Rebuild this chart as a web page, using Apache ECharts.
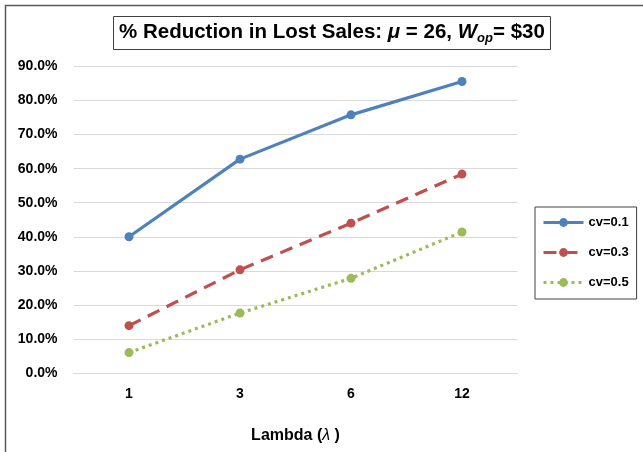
<!DOCTYPE html>
<html>
<head>
<meta charset="utf-8">
<script src="https://cdn.jsdelivr.net/npm/echarts@6/dist/echarts.min.js"></script>
<style>
  html, body { margin: 0; padding: 0; background: #fff; }
  #chart { width: 643px; height: 452px; }
</style>
</head>
<body>
<div id="chart"></div>
<script>
// Arrival rate values on the category axis
const lambdas = ['1', '3', '6', '12'];
// Percent reduction in lost sales for each coefficient of variation
const cv01 = [40.0, 62.8, 75.8, 85.6];
const cv03 = [13.9, 30.3, 44.0, 58.4];
const cv05 = [6.0, 17.6, 27.8, 41.4];
const seriesNames = ['cv=0.1', 'cv=0.3', 'cv=0.5'];
const yTicksMax = 90;
const yTickStep = 10;

const FONT = '"Liberation Sans", Arial, sans-serif';
const chart = echarts.init(document.getElementById('chart'), null, { renderer: 'canvas' });

const lineSeries = (name, data, color, type) => ({
  name: name,
  type: 'line',
  data: data,
  symbol: 'circle',
  symbolSize: 9,
  itemStyle: { color: color },
  lineStyle: { color: color, width: 3.2, type: type },
  emphasis: { disabled: true },
  animation: false
});

chart.setOption({
  backgroundColor: '#fff',
  animation: false,
  graphic: [{
    type: 'rect',
    shape: { x: 5.5, y: 5.5, width: 700, height: 500 },
    style: { fill: 'none', stroke: '#595959', lineWidth: 1.5 },
    silent: true
  }],
  title: {
    text: '{a|% Reduction in Lost Sales: }{i|\u03bc}{a| = 26, }{iw|W}{sub|op}{a|= $30}',
    left: 113,
    top: 14,
    padding: [6, 6, 5, 6],
    borderColor: '#404040',
    borderWidth: 1,
    textStyle: {
      rich: {
        a: { fontFamily: FONT, fontWeight: 'bold', fontSize: 20.5, color: '#000', lineHeight: 25 },
        i: { fontFamily: FONT, fontStyle: 'italic', fontSize: 20.5, color: '#000', lineHeight: 25 },
        iw: { fontFamily: FONT, fontStyle: 'italic', fontWeight: 'bold', fontSize: 20.5, color: '#000', lineHeight: 25 },
        sub: { fontFamily: FONT, fontStyle: 'italic', fontWeight: 'bold', fontSize: 13, color: '#000', lineHeight: 25, verticalAlign: 'bottom', padding: [9, 0, 0, 0] }
      }
    }
  },
  legend: {
    orient: 'vertical',
    left: 535,
    top: 207,
    padding: [9, 8, 10, 7],
    itemWidth: 40,
    itemHeight: 11,
    itemGap: 17,
    borderColor: '#404040',
    borderWidth: 1,
    lineStyle: { width: 3 },
    data: seriesNames,
    textStyle: { fontFamily: FONT, fontWeight: 'bold', fontSize: 13, color: '#000' }
  },
  grid: { left: 73.5, right: 125.5, top: 66.5, bottom: 79 },
  xAxis: {
    type: 'category',
    data: lambdas,
    boundaryGap: true,
    axisLine: { lineStyle: { color: '#d9d9d9', width: 1 } },
    axisTick: { show: false },
    axisLabel: { margin: 14, fontFamily: FONT, fontWeight: 'bold', fontSize: 14, color: '#000' },
    name: '{a|Lambda (}{i|\u03bb}{a| )}',
    nameLocation: 'middle',
    nameGap: 55,
    nameTextStyle: {
      rich: {
        a: { fontFamily: FONT, fontWeight: 'bold', fontSize: 16, color: '#000' },
        i: { fontFamily: FONT, fontStyle: 'italic', fontSize: 16, color: '#000' }
      }
    }
  },
  yAxis: {
    type: 'value',
    min: 0,
    max: yTicksMax,
    interval: yTickStep,
    axisLine: { show: false },
    axisTick: { show: false },
    splitLine: { lineStyle: { color: '#d9d9d9', width: 1 } },
    axisLabel: {
      margin: 16,
      fontFamily: FONT, fontWeight: 'bold', fontSize: 14, color: '#000',
      formatter: v => v.toFixed(1) + '%'
    }
  },
  series: [
    lineSeries(seriesNames[0], cv01, '#4f81bd', 'solid'),
    lineSeries(seriesNames[1], cv03, '#c0504d', [13, 8]),
    lineSeries(seriesNames[2], cv05, '#9bbb59', [3, 4])
  ]
});
</script>
</body>
</html>
